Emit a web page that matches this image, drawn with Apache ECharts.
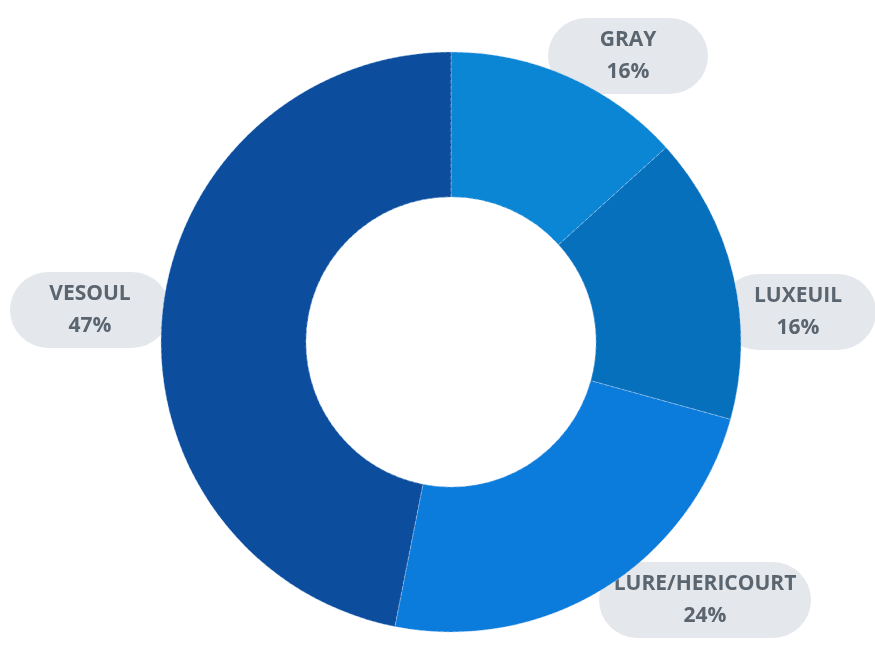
<!DOCTYPE html>
<html>
<head>
<meta charset="utf-8">
<script src="https://cdn.jsdelivr.net/npm/echarts@6/dist/echarts.min.js"></script>
<style>html,body{margin:0;padding:0;background:#fff}#c{width:875px;height:645px}</style>
</head>
<body>
<div id="c"></div>
<script>
// Categories and values (slice shares as drawn), labels as printed
var categories = ['GRAY', 'LUXEUIL', 'LURE/HERICOURT', 'VESOUL'];
var values = [13.3, 16.0, 23.8, 46.9];
var pctLabels = ['16%', '16%', '24%', '47%'];
var colors = ['#0a86d4', '#0770bd', '#0b7bdc', '#0c4d9e'];
// label placement (annotation layout)
var labelX = [628, 798, 705, 90];
var labelY = [56, 312, 600, 310];
var labelW = [144, 140, 196, 144];

var chart = echarts.init(document.getElementById('c'));
var labelData = categories.map(function (c, i) {
  return { name: c, value: values[i], label: { width: labelW[i] } };
});
var mainData = categories.map(function (c, i) {
  return { name: c, value: values[i], itemStyle: { color: colors[i] } };
});
chart.setOption({
  animation: false,
  series: [
    {
      type: 'pie',
      z: 1,
      silent: true,
      center: [451, 342],
      radius: [145, 290],
      startAngle: 90,
      clockwise: true,
      itemStyle: { color: 'rgba(0,0,0,0)' },
      labelLine: { show: false },
      label: {
        show: true,
        position: 'outside',
        formatter: function (p) { return p.name + '\n' + pctLabels[p.dataIndex]; },
        color: '#5a6570',
        fontFamily: '"Open Sans", sans-serif',
        fontWeight: 'bold',
        fontSize: 21,
        lineHeight: 32,
        align: 'center',
        backgroundColor: '#e4e7ec',
        borderRadius: 38,
        padding: [6, 8]
      },
      labelLayout: function (p) {
        return { x: labelX[p.dataIndex], y: labelY[p.dataIndex], align: 'center', verticalAlign: 'middle' };
      },
      data: labelData
    },
    {
      type: 'pie',
      z: 2,
      center: [451, 342],
      radius: [145, 290],
      startAngle: 90,
      clockwise: true,
      label: { show: false },
      labelLine: { show: false },
      itemStyle: { borderColor: 'rgba(180,210,240,0.55)', borderWidth: 1, borderType: 'dashed' },
      data: mainData
    }
  ]
});
</script>
</body>
</html>
